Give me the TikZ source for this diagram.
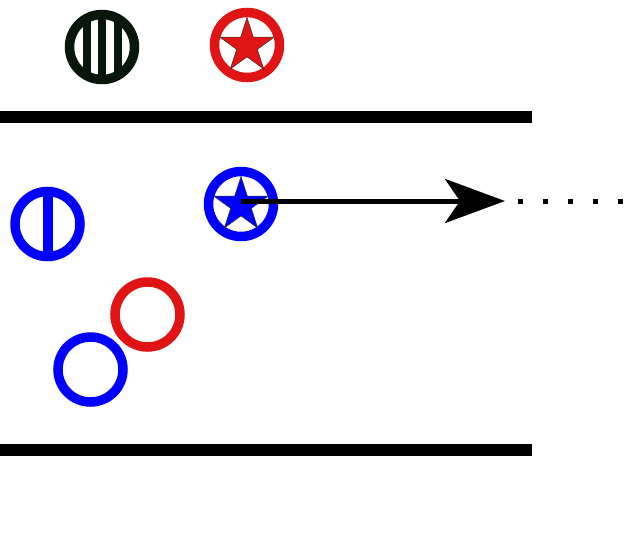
\documentclass[tikz,border=0pt]{standalone}
\usetikzlibrary{shapes.geometric,arrows.meta,calc}
\definecolor{ringred}{RGB}{224,20,20}
\definecolor{ringblue}{RGB}{0,0,255}
\definecolor{ringdark}{RGB}{8,22,12}
\begin{document}
\begin{tikzpicture}[x=1pt,y=-1pt,
  ring/.style={circle,draw,line width=9.5pt,inner sep=0pt,minimum size=65pt,outer sep=0pt},
  starshape/.style={star,star points=5,star point ratio=2.618,inner sep=0pt,minimum size=57pt,draw=black!80,line width=0.5pt,shape border rotate=0},
  wall/.style={line width=12pt},
  mover/.style={line width=5pt,-{Stealth[length=60pt,width=44pt,inset=15pt]}},
  trail/.style={line width=5pt,dash pattern=on 5pt off 20pt}
]
\useasboundingbox (0,0) rectangle (628,541);
% walls
\coordinate (wt1) at (0,116.5);
\coordinate (wt2) at (532,116.5);
\coordinate (wb1) at (0,449.5);
\coordinate (wb2) at (532,449.5);
\draw[wall] (wt1) -- (wt2);
\draw[wall] (wb1) -- (wb2);
% striped dark circle
\node[ring,draw=ringdark] (d1) at (102,47) {};
\begin{scope}
  \clip (d1.center) circle (32pt);
  \foreach \dx in {-15.5,0,15.5}
    \fill[ringdark] ($(d1.center)+(\dx-4,-40)$) rectangle ($(d1.center)+(\dx+4,40)$);
\end{scope}
% red star circle
\node[ring,draw=ringred] (r1) at (247,45) {};
\node[starshape,fill=ringred] (r1s) at ($(r1.center)+(0,1)$) {};
% blue half circle
\node[ring,draw=ringblue] (b1) at (47.5,224) {};
\begin{scope}
  \clip (b1.center) circle (32pt);
  \fill[ringblue] ($(b1.center)+(-5,-40)$) rectangle ($(b1.center)+(5,40)$);
\end{scope}
% blue star circle
\node[ring,draw=ringblue] (b2) at (241,204) {};
\node[starshape,fill=ringblue] (b2s) at ($(b2.center)+(0,1)$) {};
% plain rings
\node[ring,draw=ringred] (r2) at (147.5,314.5) {};
\node[ring,draw=ringblue] (b3) at (90.5,369.5) {};
% arrow
\coordinate (tip) at (505,201);
\coordinate (tstart) at (517.5,201);
\coordinate (tend) at (628,201);
\draw[mover] (b2.center |- tip) -- (tip);
\draw[trail] (tstart) -- (tend);
\end{tikzpicture}
\end{document}
